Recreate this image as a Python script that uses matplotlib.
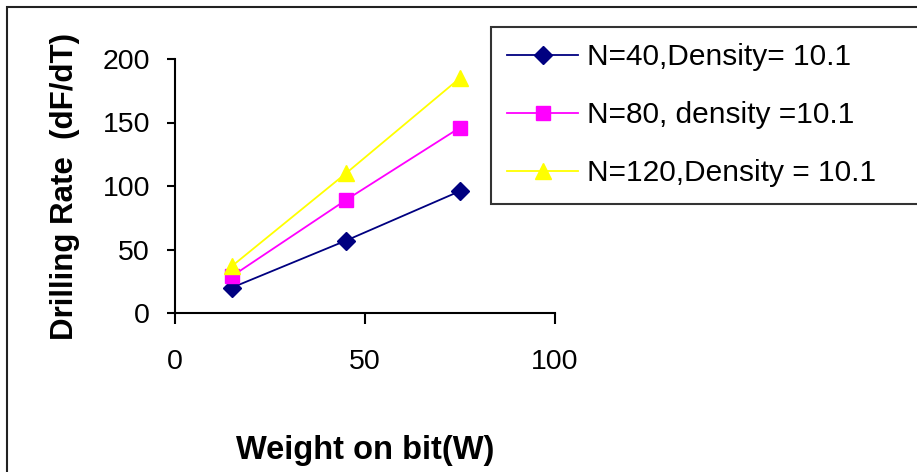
import matplotlib.pyplot as plt
from matplotlib.patches import Rectangle

plt.rcParams['font.family'] = ['Liberation Sans', 'DejaVu Sans']

# data
weight = [15, 45, 75]
rate_n40 = [20, 57, 96]
rate_n80 = [29, 89, 146]
rate_n120 = [37, 110, 185]
labels = ['N=40,Density= 10.1', 'N=80, density =10.1', 'N=120,Density = 10.1']
x_ticks = [0, 50, 100]
y_ticks = [0, 50, 100, 150, 200]

W, H = 917, 472
fig = plt.figure(figsize=(W / 100, H / 100), dpi=100)
ax = fig.add_axes([175 / W, 1 - 313 / H, (555 - 175) / W, (313 - 59) / H])

ax.plot(weight, rate_n40, color='#000080', lw=1.3, marker='D', ms=9.5, label=labels[0])
ax.plot(weight, rate_n80, color='#FF00FF', lw=1.3, marker='s', ms=9.5, label=labels[1])
ax.plot(weight, rate_n120, color='#FFFF00', lw=1.3, marker='^', ms=12, label=labels[2])

ax.set_xlim(0, 100)
ax.set_ylim(0, 200)
ax.set_xticks(x_ticks)
ax.set_yticks(y_ticks)
ax.spines['top'].set_visible(False)
ax.spines['right'].set_visible(False)
for s in ['left', 'bottom']:
    ax.spines[s].set_linewidth(1.5)
ax.tick_params(axis='y', length=6, width=1.5, labelsize=20.5, pad=12)
ax.tick_params(axis='x', length=8, width=1.5, labelsize=20.5, pad=18)

ax.set_xlabel('Weight on bit(W)', fontsize=23.5, fontweight='bold', labelpad=43)
ax.set_ylabel('Drilling Rate  (dF/dT)', fontsize=22.5, fontweight='bold', labelpad=16)

# legend box runs past the right edge of the picture
leg = fig.legend(loc='upper left', bbox_to_anchor=(491 / W, 1 - 204 / H, 0.5, 177 / H),
                 mode='expand', fontsize=21.5, frameon=True, fancybox=False,
                 edgecolor='black', handlelength=2.35, handletextpad=0.3,
                 labelspacing=1.0, borderpad=0.55, borderaxespad=0)
leg.get_frame().set_linewidth(1.5)

# outer chart frame (cut off at right and bottom)
fig.patches.append(Rectangle((7 / W, -0.1), 1.2, 1.1 - 7 / H, transform=fig.transFigure,
                             fill=False, edgecolor='#222222', lw=1.5))

fig.savefig('out.png', dpi=100)
